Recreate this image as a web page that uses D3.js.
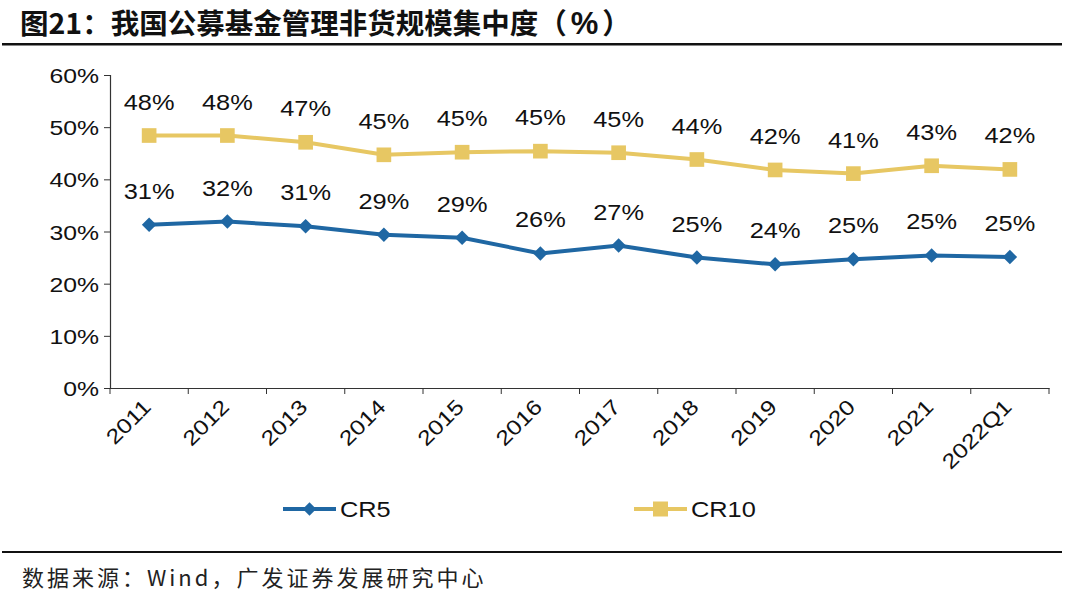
<!DOCTYPE html>
<html>
<head>
<meta charset="utf-8">
<script src="https://cdn.jsdelivr.net/npm/d3@7"></script>
<style>
  body { margin: 0; background: #fff; }
  svg { display: block; font-family: "Liberation Sans", Arial, sans-serif; }
</style>
</head>
<body>
<svg id="chart" width="1080" height="600"></svg>
<script>
const years = ['2011', '2012', '2013', '2014', '2015', '2016', '2017', '2018', '2019', '2020', '2021', '2022Q1'];
const cr5 = [31.3, 31.9, 31.0, 29.4, 28.8, 25.8, 27.3, 25.0, 23.7, 24.7, 25.4, 25.1];
const cr10 = [48.4, 48.4, 47.1, 44.7, 45.2, 45.4, 45.1, 43.8, 41.8, 41.1, 42.6, 41.9];
const yTicks = [0, 10, 20, 30, 40, 50, 60];

const svg = d3.select('#chart');
const blue = '#1f67a3', gold = '#e7c763';
const cjk = '"Noto Sans CJK SC", "Liberation Sans", sans-serif';
const sx = 1.18; // the source's latin text is a bit wide

// title + rules
const title = svg.append('text').attr('x', 20).attr('y', 34)
  .attr('font-family', cjk).attr('font-weight', 'bold').attr('font-size', 28.5).attr('fill', '#111');
title.append('tspan').text('图21：我国公募基金管理非货规模集中度（');
title.append('tspan').attr('dx', 4).attr('font-size', 31)
  .attr('font-family', '"Liberation Sans", Arial, sans-serif').text('%');
title.append('tspan').attr('dx', 4).text('）');
svg.append('rect').attr('x', 2).attr('y', 43).attr('width', 1060).attr('height', 2.5).attr('fill', '#111');
svg.append('rect').attr('x', 2).attr('y', 551).attr('width', 1060).attr('height', 2).attr('fill', '#111');
svg.append('text').attr('x', 22).attr('y', 586)
  .attr('font-family', cjk).attr('font-size', 22).attr('letter-spacing', 3).attr('fill', '#222')
  .text('数据来源：Wind，广发证券发展研究中心');

const x = d3.scaleBand().domain(years).range([110, 1049]);
const y = d3.scaleLinear().domain([0, 60]).range([388, 75]);
const cx = d => x(d) + x.bandwidth() / 2;

// axes
const yAxis = svg.append('g').attr('transform', 'translate(110,0)')
  .call(d3.axisLeft(y).tickValues(yTicks).tickSize(6).tickFormat(d => d + '%'));
yAxis.selectAll('.tick text')
  .attr('x', null).attr('dy', '0.36em')
  .attr('transform', `translate(-11,0) scale(${sx},1)`)
  .attr('font-size', 21).attr('fill', '#111');

const xAxis = svg.append('g').attr('transform', 'translate(0,388)')
  .call(d3.axisBottom(x).tickSize(0).tickFormat(''));
xAxis.selectAll('.tick').remove();
d3.range(years.length + 1).forEach(i => {
  const px = 110 + i * x.step();
  xAxis.append('line').attr('x1', px).attr('x2', px).attr('y1', 0).attr('y2', 6).attr('stroke', '#333');
});
svg.selectAll('.domain').attr('stroke', '#333').attr('stroke-width', 1.2);
svg.selectAll('.tick line').attr('stroke', '#333');

svg.append('g').selectAll('text').data(years).join('text')
  .attr('transform', d => `translate(${cx(d) - 2},${403}) rotate(-45) scale(${sx},1)`)
  .attr('text-anchor', 'end').attr('dy', '0.35em')
  .attr('font-size', 21).attr('fill', '#111').text(d => d);

const line = d3.line().x((v, i) => cx(years[i])).y(v => y(v));

function series(vals, color, shape, size, rot) {
  svg.append('path').datum(vals).attr('d', line)
    .attr('fill', 'none').attr('stroke', color).attr('stroke-width', 4);
  svg.append('g').selectAll('path').data(vals).join('path')
    .attr('transform', (v, i) => `translate(${cx(years[i])},${y(v)}) rotate(${rot})`)
    .attr('d', d3.symbol().type(shape).size(size))
    .attr('fill', color);
  svg.append('g').selectAll('text').data(vals).join('text')
    .attr('transform', (v, i) => `translate(${cx(years[i])},${y(v) - 26}) scale(${sx},1)`)
    .attr('text-anchor', 'middle').attr('font-size', 21.5).attr('fill', '#111')
    .text(v => Math.round(v) + '%');
}
series(cr10, gold, d3.symbolSquare, 215, 0);
series(cr5, blue, d3.symbolSquare, 105, 45);

// legend
function legendItem(x0, color, shape, size, rot, label) {
  const g = svg.append('g').attr('transform', `translate(${x0},509)`);
  g.append('line').attr('x1', 0).attr('x2', 53).attr('stroke', color).attr('stroke-width', 4);
  g.append('path').attr('transform', `translate(26.5,0) rotate(${rot})`)
    .attr('d', d3.symbol().type(shape).size(size)).attr('fill', color);
  g.append('text').attr('transform', `translate(57,0) scale(${sx},1)`)
    .attr('dy', '0.36em').attr('font-size', 21.5).attr('fill', '#111').text(label);
}
legendItem(283, blue, d3.symbolSquare, 90, 45, 'CR5');
legendItem(634, gold, d3.symbolSquare, 225, 0, 'CR10');
</script>
</body>
</html>
